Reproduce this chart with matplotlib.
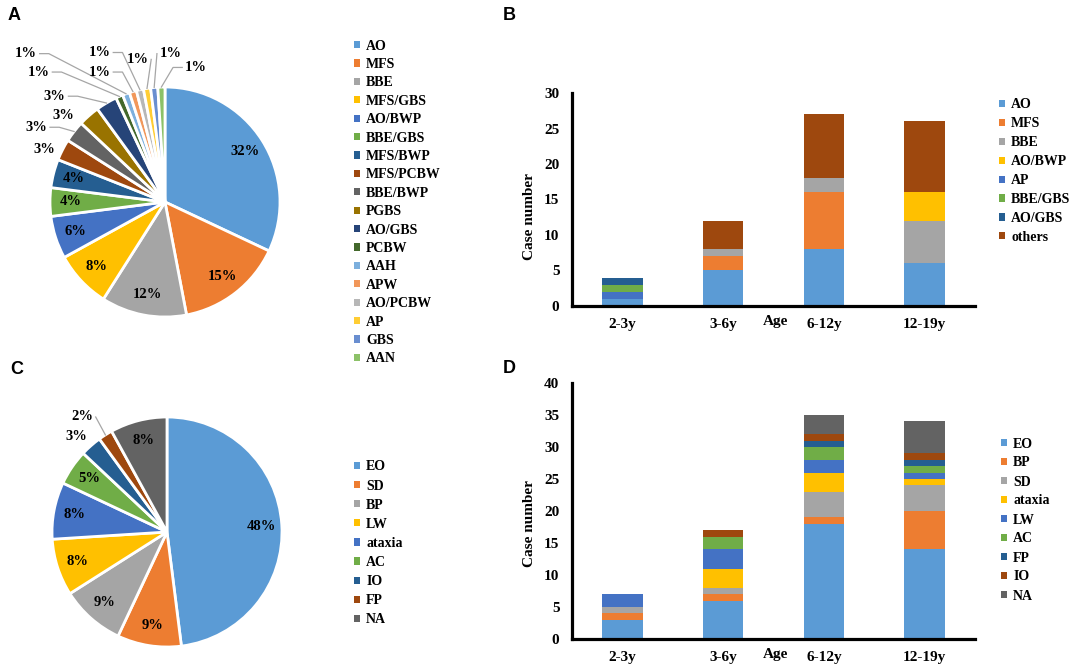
import numpy as np
import matplotlib
matplotlib.use("Agg")
import matplotlib.pyplot as plt
from matplotlib.patches import Patch

# ---- data ----
# A: causes (pie, %)
a_labels = ["AO", "MFS", "BBE", "MFS/GBS", "AO/BWP", "BBE/GBS", "MFS/BWP", "MFS/PCBW",
            "BBE/BWP", "PGBS", "AO/GBS", "PCBW", "AAH", "APW", "AO/PCBW", "AP", "GBS", "AAN"]
a_pct = [32, 15, 12, 8, 6, 4, 4, 3, 3, 3, 3, 1, 1, 1, 1, 1, 1, 1]

# B: causes by age (stacked counts)
ages = ["2-3y", "3-6y", "6-12y", "12-19y"]
b_labels = ["AO", "MFS", "BBE", "AO/BWP", "AP", "BBE/GBS", "AO/GBS", "others"]
b_ao = [1, 5, 8, 6]
b_mfs = [0, 2, 8, 0]
b_bbe = [0, 1, 2, 6]
b_aobwp = [0, 0, 0, 4]
b_ap = [1, 0, 0, 0]
b_bbegbs = [1, 0, 0, 0]
b_aogbs = [1, 0, 0, 0]
b_others = [0, 4, 9, 10]

# C: symptoms (pie, %)
c_labels = ["EO", "SD", "BP", "LW", "ataxia", "AC", "IO", "FP", "NA"]
c_pct = [48, 9, 9, 8, 8, 5, 3, 2, 8]

# D: symptoms by age (stacked counts)
d_labels = ["EO", "BP", "SD", "ataxia", "LW", "AC", "FP", "IO", "NA"]
d_eo = [3, 6, 18, 14]
d_bp = [1, 1, 1, 6]
d_sd = [1, 1, 4, 4]
d_ataxia = [0, 3, 3, 1]
d_lw = [2, 3, 2, 1]
d_ac = [0, 2, 2, 1]
d_fp = [0, 0, 1, 1]
d_io = [0, 1, 1, 1]
d_na = [0, 0, 3, 5]

# ---- style ----
office = ["#5B9BD5", "#ED7D31", "#A5A5A5", "#FFC000", "#4472C4", "#70AD47",
          "#255E91", "#9E480E", "#636363", "#997300", "#264478", "#43682B",
          "#7CAFDD", "#F1975A", "#B7B7B7", "#FFCD33", "#698ED0", "#8CC168"]
serif = dict(family="Liberation Serif", weight="bold")

W, H = 1084, 672
fig = plt.figure(figsize=(W / 100, H / 100), dpi=100)


def px_axes(l, t, r, b):
    return fig.add_axes([l / W, 1 - b / H, (r - l) / W, (b - t) / H])


def legend_at(labels, colors, x, y_first, pitch):
    handles = [Patch(facecolor=c, edgecolor="none") for c in colors]
    fs = 10
    fs_px = fs * 100 / 72
    lab_sp = (pitch - 13.0) / fs_px
    fig.legend(handles, labels, loc="upper left",
               bbox_to_anchor=(x / W, 1 - (y_first - 5.5) / H), frameon=False,
               prop=dict(size=fs, **serif), handlelength=0.42, handleheight=0.42,
               handletextpad=0.45, labelspacing=lab_sp, borderpad=0, borderaxespad=0)


def draw_pie(ax, pct, colors, out_pos):
    wedges, _ = ax.pie(pct, colors=colors, startangle=90, counterclock=False, radius=1,
                       wedgeprops=dict(edgecolor="white", linewidth=2))
    ax.set_xlim(-1, 1)
    ax.set_ylim(-1, 1)
    ax.set_aspect("equal")
    for i, (w, p) in enumerate(zip(wedges, pct)):
        mid = np.deg2rad((w.theta1 + w.theta2) / 2)
        wx, wy = np.cos(mid), np.sin(mid)
        txt = f"{p}%"
        if i in out_pos:
            lx, ly = out_pos[i]
            ax.text(lx, ly, txt, ha="center", va="center", fontsize=10.5, **serif)
            if np.hypot(lx - wx, ly - wy) > 0.24:
                side = 1 if wx > lx else -1
                x0 = lx + side * 0.12
                if side * (wx - x0) < 0.1:
                    xs, ys = [x0, wx], [ly, wy]
                else:
                    xs, ys = [x0, x0 + side * 0.08, wx], [ly, ly, wy]
                ax.plot(xs, ys, color="#a6a6a6", lw=0.9, clip_on=False)
        else:
            ax.text(0.82 * wx, 0.82 * wy, txt, ha="center", va="center", fontsize=10.5, **serif)


def draw_bars(ax, series, colors, ymax):
    x = np.arange(len(ages))
    bottom = np.zeros(len(ages))
    for vals, c in zip(series, colors):
        ax.bar(x, vals, bottom=bottom, width=0.4, color=c, edgecolor="none")
        bottom += np.array(vals)
    ax.set_xlim(-0.5, 3.5)
    ax.set_ylim(0, ymax)
    ax.set_xticks(x, ages)
    ax.set_yticks(np.arange(0, ymax + 1, 5))
    for s in ["top", "right"]:
        ax.spines[s].set_visible(False)
    for s in ["left", "bottom"]:
        ax.spines[s].set_linewidth(2.3)
    ax.tick_params(length=0, labelsize=11)
    ax.tick_params(axis="y", pad=9)
    ax.tick_params(axis="x", pad=9)
    for lab in ax.get_xticklabels() + ax.get_yticklabels():
        lab.set_fontfamily("Liberation Serif")
        lab.set_fontweight("bold")
    ax.annotate("Age", xy=(1.52, 0), xycoords=("data", "axes fraction"),
                xytext=(0, -11.5), textcoords="offset points",
                ha="center", va="center", fontsize=11, **serif)
    ax.set_ylabel("Case number", fontsize=11, **serif)


# ---- A ----
fig.text(8 / W, 1 - 16 / H, "A", fontsize=13, fontweight="bold", family="Liberation Sans", va="center")
ax_a = px_axes(50, 87, 280, 317)
a_out = {7: (-1.05, 0.46), 8: (-1.12, 0.65), 9: (-0.88, 0.75), 10: (-0.96, 0.92),
         11: (-1.10, 1.13), 12: (-1.21, 1.29), 13: (-0.57, 1.13), 14: (-0.57, 1.30),
         15: (-0.24, 1.24), 16: (0.05, 1.29), 17: (0.27, 1.17)}
draw_pie(ax_a, a_pct, office[:len(a_pct)], a_out)
legend_at(a_labels, office[:len(a_labels)], 354, 45, 18.4)

# ---- B ----
fig.text(503 / W, 1 - 16 / H, "B", fontsize=13, fontweight="bold", family="Liberation Sans", va="center")
ax_b = px_axes(572, 93, 975, 306)
b_series = [b_ao, b_mfs, b_bbe, b_aobwp, b_ap, b_bbegbs, b_aogbs, b_others]
b_colors = ["#5B9BD5", "#ED7D31", "#A5A5A5", "#FFC000", "#4472C4", "#70AD47", "#255E91", "#9E480E"]
draw_bars(ax_b, b_series, b_colors, 30)
ax_b.yaxis.set_label_coords(-0.09, 0.42)
legend_at(b_labels, b_colors, 999, 104, 18.9)

# ---- C ----
fig.text(10 / W, 1 - 370 / H, "C", fontsize=13, fontweight="bold", family="Liberation Sans", va="center")
ax_c = px_axes(52, 417, 282, 647)
c_out = {6: (-0.79, 0.83), 7: (-0.74, 1.00)}
draw_pie(ax_c, c_pct, office[:len(c_pct)], c_out)
legend_at(c_labels, office[:len(c_labels)], 354, 466, 19.1)

# ---- D ----
fig.text(503 / W, 1 - 368 / H, "D", fontsize=13, fontweight="bold", family="Liberation Sans", va="center")
ax_d = px_axes(572, 383, 975, 639)
d_series = [d_eo, d_bp, d_sd, d_ataxia, d_lw, d_ac, d_fp, d_io, d_na]
d_colors = ["#5B9BD5", "#ED7D31", "#A5A5A5", "#FFC000", "#4472C4", "#70AD47", "#255E91", "#9E480E", "#636363"]
draw_bars(ax_d, d_series, d_colors, 40)
ax_d.yaxis.set_label_coords(-0.09, 0.45)
legend_at(d_labels, d_colors, 1001, 443, 19)

fig.savefig("out.png", dpi=100)
